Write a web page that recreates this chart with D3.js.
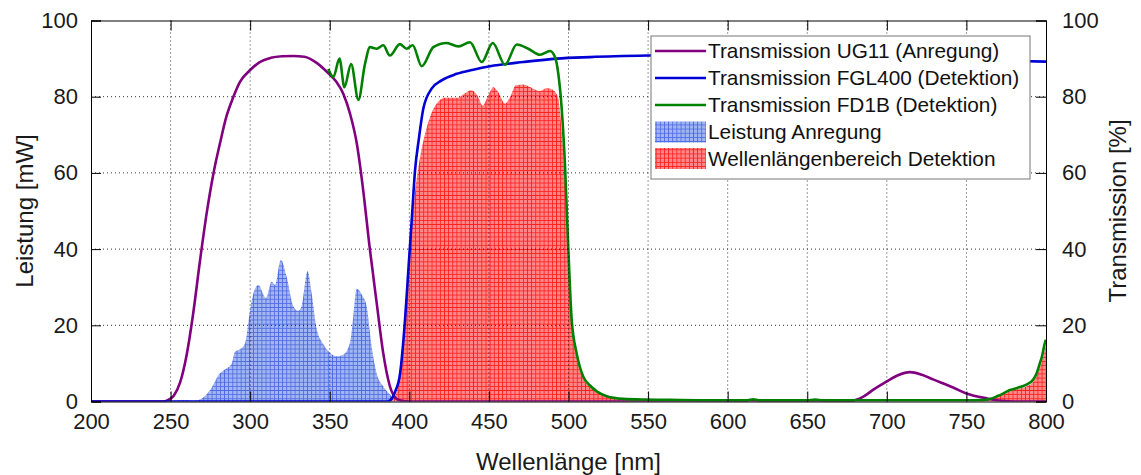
<!DOCTYPE html>
<html>
<head>
<meta charset="utf-8">
<script src="https://cdn.jsdelivr.net/npm/d3@7"></script>
<style>
  html, body { margin: 0; padding: 0; background: #fff; }
  svg { display: block; font-family: "Liberation Sans", Arial, sans-serif; }
</style>
</head>
<body>
<svg id="chart" width="1141" height="475"></svg>
<script>
// Axis ticks
const xTicks = [200, 250, 300, 350, 400, 450, 500, 550, 600, 650, 700, 750, 800];
const yTicks = [0, 20, 40, 60, 80, 100];

// Transmission UG11 (excitation filter), %
const ug11Nm  = [200, 245, 248, 252, 256, 260, 264, 268.5, 272.7, 277, 281, 285, 289.4, 293.6, 300, 306, 313, 320, 327, 334, 342, 348, 354, 358.5, 362.7, 367, 371, 375, 379.5, 383.6, 387.8, 392, 396, 400, 608, 614, 620, 670, 677, 685, 691.5, 700, 707, 714.5, 722, 729, 742, 750, 763, 772, 780, 800];
const ug11Val = [0, 0, 0.3, 1.5, 5, 12, 22.5, 37, 49.5, 60, 67.7, 74.7, 79.9, 83.9, 87, 89.1, 90.2, 90.6, 90.7, 90.5, 88.8, 86.6, 84, 80.8, 75.6, 67.7, 55.5, 40.7, 25.8, 12.7, 4.0, 0.7, 0.1, 0, 0, 0.3, 0, 0, 0.1, 1.2, 3.1, 5.3, 6.9, 7.7, 7.0, 5.8, 3.6, 2.1, 0.8, 0.2, 0, 0];

// Transmission FGL400 (detection long-pass), %
const fglNm  = [200, 386, 388, 391, 394.2, 397.3, 399.4, 401.5, 403.6, 406, 408.8, 414, 420.3, 429.8, 440.2, 450.7, 471.6, 492.6, 513.5, 550, 600, 650, 700, 750, 800];
const fglVal = [0, 0, 0.3, 2.5, 7.4, 21.5, 34.6, 47.6, 60.7, 69, 76.9, 82.1, 84.3, 86.0, 87.1, 88.0, 89.1, 90.0, 90.4, 90.8, 91.0, 90.6, 90.1, 89.6, 89.2];

// Transmission FD1B (detection filter), %
const fd1bNm  = [349.1, 352.3, 356.1, 359.2, 363.4, 368, 372.1, 375.3, 379.5, 383.6, 387.8, 394.1, 398.3, 402.1, 407.8, 415.1, 423.5, 430.8, 438.1, 445.5, 452.4, 460.1, 467.5, 474.7, 482.1, 488.4, 491.5, 493.6, 495.7, 497.8, 499.9, 502, 505.2, 509.3, 513.5, 518, 524, 534.4, 549, 570, 600, 612, 616, 620, 650, 655, 660, 755, 763, 770, 777.4, 783.7, 788, 792, 794.2, 796.2, 797.3, 799.4, 800];
const fd1bVal = [87.3, 85.2, 90.0, 82.5, 88.6, 79.2, 88.5, 93.0, 92.6, 93.5, 90.8, 93.8, 92.6, 93.5, 88.0, 93.0, 94.1, 93.2, 94.3, 89.1, 94.1, 88.4, 93.7, 92.6, 91.0, 92.0, 90.4, 86.0, 77, 62, 40, 21.5, 12.5, 6.5, 4.2, 2.6, 1.4, 0.7, 0.5, 0.4, 0.3, 0.3, 0.6, 0.3, 0.3, 0.5, 0.3, 0.3, 0.5, 1.5, 3.0, 3.8, 4.5, 5.8, 7.5, 10.1, 11.5, 15.5, 16.2];

// Excitation power, mW
const powerNm  = [250, 255, 260, 265, 268.5, 274.8, 281, 285.2, 288.4, 290.5, 293.6, 296.8, 298.8, 301, 305.1, 310, 313.5, 315.6, 319.3, 322.9, 327.1, 330.2, 332.3, 336.1, 338.6, 341.8, 346, 350.1, 354.3, 358.5, 362.7, 364.8, 366.9, 370.7, 373.2, 376.3, 379.4, 383.6, 386.8, 390, 393];
const powerVal = [0, 0.4, 0.4, 0.2, 0.5, 3.0, 7.4, 8.7, 10.0, 13.1, 13.7, 15.3, 20.5, 26.6, 30.6, 27.1, 31.4, 30.6, 37.2, 32.8, 25, 23.8, 25, 34.2, 28.5, 19.0, 15.0, 12.8, 11.9, 12.3, 15.4, 22.4, 29.6, 27.6, 25, 14.5, 7.5, 4, 2.3, 1.0, 0];

// Detection wavelength range, %
const detNm  = [386, 388, 391, 394.2, 396.2, 398.3, 400.9, 403.6, 406.7, 410, 413, 417.2, 422.4, 429.8, 436, 438.7, 442.7, 446.1, 449.6, 452.8, 455.9, 460.1, 463.3, 467, 471.6, 477.9, 482.1, 486.3, 490.5, 493.6, 495.7, 497.8, 499.9, 502, 505.2, 509.3, 513.5, 518, 524, 534, 549, 560, 755, 763, 770, 777.4, 783.7, 788, 792, 794.2, 796.2, 797.3, 799.4, 800];
const detVal = [0, 0, 1.4, 7.4, 17, 29, 42, 55, 64, 70.5, 74.7, 78.2, 79.7, 79.7, 81.2, 81.7, 80.4, 77.7, 80.4, 82.5, 81.2, 78.2, 79.9, 83.0, 83.2, 82.1, 81.5, 82.3, 81.7, 79.5, 71, 57, 37, 20, 11.5, 6, 3.9, 2.4, 1.3, 0.6, 0.4, 0, 0, 0.4, 1.3, 2.7, 3.4, 4.0, 5.2, 6.7, 9.0, 10.2, 13.8, 15.0];

const legendLabels = [
  "Transmission UG11 (Anregung)",
  "Transmission FGL400 (Detektion)",
  "Transmission FD1B (Detektion)",
  "Leistung Anregung",
  "Wellenlängenbereich Detektion"
];

const zip = (xs, ys) => xs.map((x, i) => ({ x, y: ys[i] }));

const svg = d3.select("#chart");
const plotLeft = 91, plotRight = 1046, plotTop = 20.5, plotBottom = 401.5;

const x = d3.scaleLinear().domain([200, 800]).range([plotLeft, plotRight]);
const yL = d3.scaleLinear().domain([0, 100]).range([plotBottom, plotTop]);
const yR = d3.scaleLinear().domain([0, 100]).range([plotBottom, plotTop]);

// Cross-hatch fill patterns
const defs = svg.append("defs");
function hatch(id, bg, line, step) {
  const p = defs.append("pattern")
    .attr("id", id).attr("patternUnits", "userSpaceOnUse")
    .attr("width", step).attr("height", step);
  p.append("rect").attr("width", step).attr("height", step).attr("fill", bg);
  p.append("path").attr("d", `M0,0.4H${step}M0.4,0V${step}`)
    .attr("stroke", line).attr("stroke-width", 0.9).attr("fill", "none");
}
hatch("hatchBlue", "#a2b5f1", "#4d6be3", 4.15);
hatch("hatchRed", "#ff8787", "#ff1f1f", 4.15);

defs.append("clipPath").attr("id", "plotClip")
  .append("rect").attr("x", plotLeft).attr("y", plotTop)
  .attr("width", plotRight - plotLeft).attr("height", plotBottom - plotTop);

const plot = svg.append("g").attr("clip-path", "url(#plotClip)");

const curve = d3.curveMonotoneX;
const areaL = d3.area().x(d => x(d.x)).y0(yL(0)).y1(d => yL(d.y)).curve(curve);
const areaR = d3.area().x(d => x(d.x)).y0(yR(0)).y1(d => yR(d.y)).curve(curve);
const lineR = d3.line().x(d => x(d.x)).y(d => yR(d.y)).curve(curve);

// Filled areas
plot.append("path").datum(zip(powerNm, powerVal))
  .attr("d", areaL).attr("fill", "url(#hatchBlue)");
plot.append("path").datum(zip(detNm, detVal))
  .attr("d", areaR).attr("fill", "url(#hatchRed)");

// Grid
const grid = svg.append("g").attr("stroke", "#000").attr("stroke-width", 1)
  .attr("stroke-dasharray", "1,3").attr("opacity", 0.8);
xTicks.slice(1, -1).forEach(t => {
  grid.append("line").attr("x1", x(t)).attr("x2", x(t)).attr("y1", plotTop).attr("y2", plotBottom);
});
yTicks.slice(1, -1).forEach(t => {
  grid.append("line").attr("x1", plotLeft).attr("x2", plotRight).attr("y1", yL(t)).attr("y2", yL(t));
});

// Transmission curves
const series = [
  { nm: ug11Nm, val: ug11Val, color: "#800080" },
  { nm: fglNm, val: fglVal, color: "#0000d6" },
  { nm: fd1bNm, val: fd1bVal, color: "#008000" }
];
series.forEach(s => {
  plot.append("path").datum(zip(s.nm, s.val))
    .attr("d", lineR).attr("fill", "none")
    .attr("stroke", s.color).attr("stroke-width", 2.6)
    .attr("stroke-linejoin", "round");
});

// Axes with inward ticks
const fontTick = 22;
const axBottom = d3.axisBottom(x).tickValues(xTicks).tickSize(-10).tickPadding(12).tickFormat(d3.format("d"));
const axTop = d3.axisTop(x).tickValues(xTicks).tickSize(-10).tickFormat("");
const axLeft = d3.axisLeft(yL).tickValues(yTicks).tickSize(-10).tickPadding(13).tickFormat(d3.format("d"));
const axRight = d3.axisRight(yR).tickValues(yTicks).tickSize(-10).tickPadding(16).tickFormat(d3.format("d"));

function styleAxis(g) {
  g.select(".domain").attr("stroke", "#000").attr("stroke-width", 1);
  g.selectAll(".tick line").attr("stroke", "#000").attr("stroke-width", 1);
  g.selectAll(".tick text").attr("fill", "#1a1a1a").attr("font-size", fontTick)
    .attr("font-family", "Liberation Sans, Arial, sans-serif");
}
svg.append("g").attr("transform", `translate(0,${plotBottom})`).call(axBottom).call(styleAxis);
svg.append("g").attr("transform", `translate(0,${plotTop})`).call(axTop).call(styleAxis);
svg.append("g").attr("transform", `translate(${plotLeft},0)`).call(axLeft).call(styleAxis);
svg.append("g").attr("transform", `translate(${plotRight},0)`).call(axRight).call(styleAxis);

// Axis titles
svg.append("text").attr("x", (plotLeft + plotRight) / 2).attr("y", 470)
  .attr("text-anchor", "middle").attr("font-size", 24).attr("fill", "#1a1a1a")
  .text("Wellenlänge [nm]");
svg.append("text").attr("transform", `translate(33,${(plotTop + plotBottom) / 2}) rotate(-90)`)
  .attr("text-anchor", "middle").attr("font-size", 24).attr("fill", "#1a1a1a")
  .text("Leistung [mW]");
svg.append("text").attr("transform", `translate(1126,${(plotTop + plotBottom) / 2}) rotate(-90)`)
  .attr("text-anchor", "middle").attr("font-size", 24).attr("fill", "#1a1a1a")
  .text("Transmission [%]");

// Legend
const lg = svg.append("g");
lg.append("rect").attr("x", 651).attr("y", 36).attr("width", 379).attr("height", 143)
  .attr("fill", "#fff").attr("stroke", "#777").attr("stroke-width", 1);
const rowY = [51, 78, 105, 132, 158.5];
const kinds = [
  { type: "line", color: "#800080" },
  { type: "line", color: "#0000d6" },
  { type: "line", color: "#008000" },
  { type: "patch", fill: "url(#hatchBlue)" },
  { type: "patch", fill: "url(#hatchRed)" }
];
legendLabels.forEach((label, i) => {
  const k = kinds[i];
  if (k.type === "line") {
    lg.append("line").attr("x1", 655).attr("x2", 706).attr("y1", rowY[i]).attr("y2", rowY[i])
      .attr("stroke", k.color).attr("stroke-width", 2.6);
  } else {
    lg.append("rect").attr("x", 655).attr("y", rowY[i] - 10.5).attr("width", 51).attr("height", 21)
      .attr("fill", k.fill);
  }
  lg.append("text").attr("x", 708).attr("y", rowY[i]).attr("dy", "0.36em")
    .attr("font-size", 20.8).attr("fill", "#111").text(label);
});
</script>
</body>
</html>
